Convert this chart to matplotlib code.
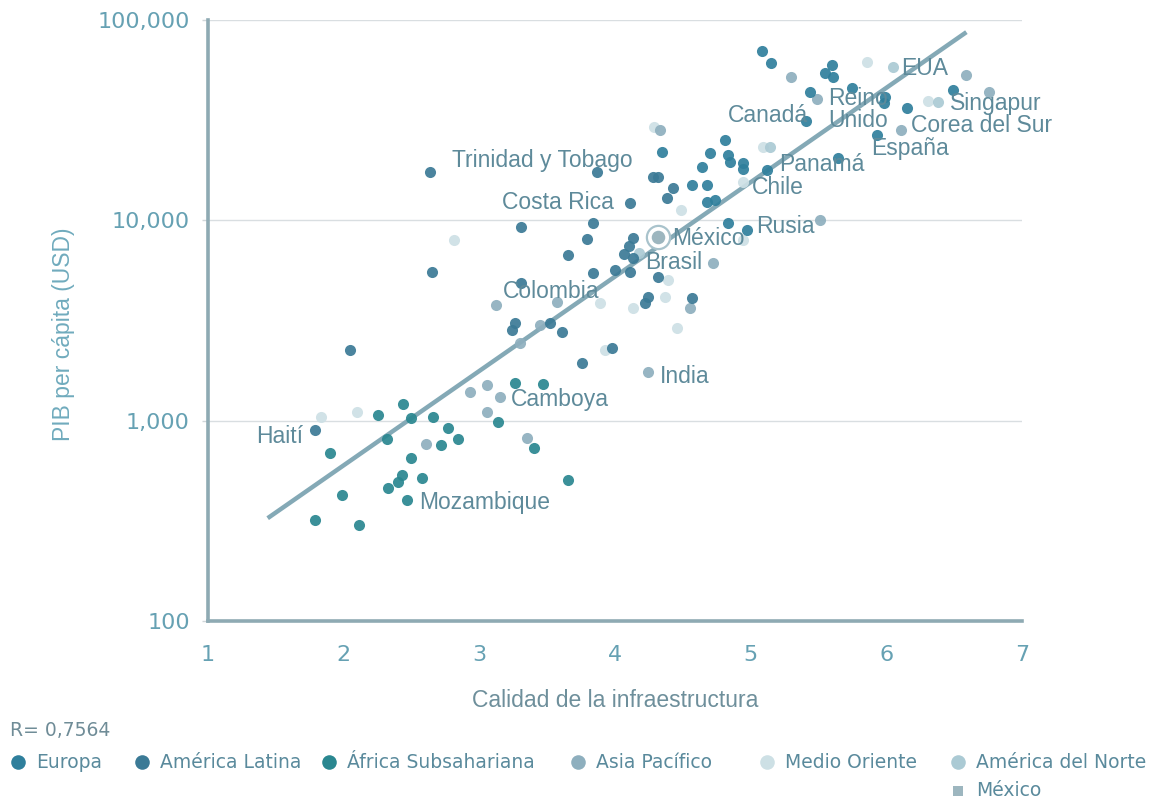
#!/usr/bin/env python3

import numpy as np
import matplotlib.pyplot as plt
from matplotlib.ticker import FuncFormatter, NullLocator, FixedLocator
from matplotlib.lines import Line2D

# infrastructure quality (x) vs GDP per capita in USD (y), by region
europa_x = [5.08, 5.15, 5.60, 5.55, 5.61, 5.44, 5.75, 5.99, 5.98, 6.15, 6.49, 5.41,
            5.93, 5.64, 4.81, 4.70, 4.83, 4.85, 4.94, 4.94, 4.35, 4.64, 4.57, 4.68,
            4.68, 4.74, 5.12, 4.83, 4.97]
europa_y = [70000, 61000, 59600, 54300, 51900, 43700, 45700, 41300, 38500, 36400,
            44700, 31300, 26700, 20500, 25200, 21700, 21200, 19500, 19300, 18000,
            21900, 18400, 15000, 15000, 12300, 12600, 17800, 9700, 8960]

latam_x = [4.28, 4.32, 4.43, 4.38, 3.87, 4.11, 2.64, 3.31, 3.84, 3.79, 3.65, 4.13,
           4.10, 4.07, 4.13, 4.00, 4.11, 3.84, 4.32, 3.31, 4.24, 4.22, 4.57, 3.26,
           3.24, 3.52, 3.61, 3.98, 3.76, 2.65, 2.05, 1.79]
latam_y = [16400, 16400, 14500, 12900, 17400, 12200, 17400, 9270, 9700, 8080, 6720,
           8170, 7450, 6790, 6480, 5650, 5520, 5460, 5210, 4860, 4140, 3860, 4090,
           3070, 2830, 3070, 2770, 2300, 1940, 5520, 2250, 897]

africa_x = [3.26, 3.47, 3.14, 3.40, 3.65, 2.44, 2.25, 2.50, 2.66, 2.77, 2.84, 2.32,
            2.72, 1.90, 2.50, 2.43, 2.40, 2.33, 2.58, 2.47, 1.99, 1.79, 2.11]
africa_y = [1540, 1520, 984, 730, 505, 1210, 1070, 1030, 1040, 918, 809, 809, 755,
            689, 650, 535, 493, 460, 516, 402, 425, 319, 301]

asia_x = [5.30, 5.49, 6.59, 6.76, 6.11, 4.33, 5.51, 4.72, 3.12, 4.55, 4.24, 2.93,
          3.06, 3.15, 3.06, 2.61, 3.35, 3.45, 3.30, 3.57]
asia_y = [51900, 40400, 53100, 43700, 28200, 28200, 10000, 6120, 3780, 3650, 1750,
          1390, 1510, 1310, 1100, 764, 818, 3000, 2440, 3910]

medio_x = [5.86, 6.31, 4.29, 5.09, 2.81, 4.49, 4.94, 1.83, 2.10, 4.37, 3.89, 4.13,
           4.46, 4.39, 3.93, 4.94]
medio_y = [61700, 39400, 29200, 23200, 7980, 11200, 15500, 1040, 1100, 4140, 3860,
           3650, 2900, 5040, 2250, 7980]

norte_x = [6.05, 6.38, 5.14, 4.18]
norte_y = [58200, 39000, 23200, 6870]

mexico_x = [4.32]
mexico_y = [8260]

# fitted trend line (log scale) endpoints
trend_x = [1.44, 6.59]
trend_y = [326, 87000]

label_text = ['Trinidad y Tobago', 'Costa Rica', 'Colombia', 'Camboya', 'Haití',
              'Mozambique', 'India', 'Brasil', 'México', 'Rusia', 'Chile', 'Panamá',
              'Canadá', 'Reino\nUnido', 'EUA', 'Singapur', 'Corea del Sur', 'España']
label_x = [2.80, 3.17, 3.17, 3.23, 1.70, 2.56, 4.33, 4.22, 4.42, 5.04, 5.01, 5.21,
           4.83, 5.57, 6.11, 6.47, 6.18, 5.89]
label_y = [20000, 12340, 4390, 1282, 838, 392, 1670, 6190, 8160, 9370, 14660, 18900,
           33200, 35900, 57600, 38500, 29600, 22960]
label_ha = ['left'] * 4 + ['right'] + ['left'] * 13

groups = [
    ('Europa', '#2f7f9c'),
    ('América Latina', '#3b7a96'),
    ('África Subsahariana', '#2a8790'),
    ('Asia Pacífico', '#8eafbe'),
    ('Medio Oriente', '#cde0e5'),
    ('América del Norte', '#abcad4'),
]
r_value = '0,7564'


def main():
    fig = plt.figure(figsize=(11.56, 8.01), dpi=100)
    ax = fig.add_axes([0.1799, 0.2247, 0.7042, 0.7503])

    ax.set_yscale('log')
    ax.set_xlim(1, 7)
    ax.set_ylim(100, 100000)

    ax.grid(axis='y', color='#d9dee1', linewidth=1.0, zorder=0)
    ax.set_axisbelow(True)

    ax.plot(trend_x, trend_y, color='#84a9b6', linewidth=3.2,
            solid_capstyle='butt', zorder=2)

    series = {
        'Medio Oriente': (medio_x, medio_y),
        'América del Norte': (norte_x, norte_y),
        'Asia Pacífico': (asia_x, asia_y),
        'África Subsahariana': (africa_x, africa_y),
        'América Latina': (latam_x, latam_y),
        'Europa': (europa_x, europa_y),
    }
    colors = dict(groups)
    for name, (xs, ys) in series.items():
        ax.scatter(xs, ys, s=64, color=colors[name], alpha=0.92,
                   linewidths=0, zorder=3)

    # Mexico highlighted with a ring
    ax.scatter(mexico_x, mexico_y, s=280, facecolor='white',
               edgecolor='#a9c3cc', linewidths=1.6, zorder=4)
    ax.scatter(mexico_x, mexico_y, s=95, color='#9db6bf', linewidths=0, zorder=5)

    for t, lx, ly, ha in zip(label_text, label_x, label_y, label_ha):
        ax.text(lx, ly, t, ha=ha, va='center', fontsize=16.5,
                family='Liberation Sans', color='#5e8a9a', zorder=6,
                linespacing=0.95)

    for side in ('top', 'right'):
        ax.spines[side].set_visible(False)
    for side in ('left', 'bottom'):
        ax.spines[side].set_color('#8eaab3')
        ax.spines[side].set_linewidth(2.6)

    ax.yaxis.set_major_locator(FixedLocator([100, 1000, 10000, 100000]))
    ax.yaxis.set_minor_locator(NullLocator())
    ax.yaxis.set_major_formatter(FuncFormatter(lambda v, p: f'{v:,.0f}'))
    ax.set_xticks([1, 2, 3, 4, 5, 6, 7])
    ax.tick_params(axis='y', length=4, width=1, color='#d0d6d9', pad=9,
                   labelsize=16, labelcolor='#66a1b3')
    ax.tick_params(axis='x', length=0, pad=17, labelsize=16,
                   labelcolor='#66a1b3')

    ax.set_xlabel('Calidad de la infraestructura', fontsize=16.5,
                  family='Liberation Sans', color='#6e8f9b')
    ax.xaxis.set_label_coords(0.5, -0.113)
    ax.set_ylabel('PIB per cápita (USD)', fontsize=16.5,
                  family='Liberation Sans', color='#70abbd')
    ax.yaxis.set_label_coords(-0.163, 0.4775)

    # legend row drawn in figure pixel space
    lax = fig.add_axes([0, 0, 1, 1])
    lax.set_xlim(0, 1156)
    lax.set_ylim(801, 0)
    lax.axis('off')
    lax.patch.set_alpha(0)

    lax.text(10, 731, 'R= ' + r_value, fontsize=13.5, color='#6f8c97',
             va='center', ha='left')
    leg_pos = [18, 142, 329, 578, 767, 958]
    for (name, col), px in zip(groups, leg_pos):
        lax.add_line(Line2D([px], [762], marker='o', markersize=10.5,
                            color=col, markeredgewidth=0, linestyle=''))
        lax.text(px + 18, 762, name, fontsize=13.5, color='#5a8a9c',
                 va='center', ha='left')
    lax.add_line(Line2D([958], [791], marker='s', markersize=7,
                        color='#9db6bf', markeredgewidth=0, linestyle=''))
    lax.text(976, 791, 'México', fontsize=13.5, color='#5a8a9c',
             va='center', ha='left')

    plt.savefig('out.png')


if __name__ == '__main__':
    main()
